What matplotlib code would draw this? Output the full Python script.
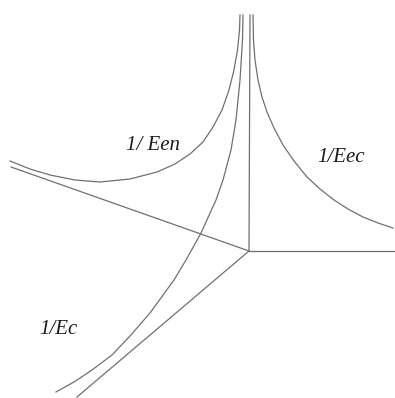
import matplotlib
matplotlib.use("Agg")
import matplotlib.pyplot as plt

# schematic (x right, y down)
origin = (249, 251)
axis_ends_x = [250, 395, 11, 77]
axis_ends_y = [15, 251, 167, 397]

een_x = [240, 239.5, 237.5, 234, 229, 222, 213, 203, 190, 175, 157, 130, 100, 75, 50, 30, 10]
een_y = [15, 30, 50, 70, 90, 110, 127, 142, 154, 164, 172, 179, 182, 180, 175, 169, 161]

ec_x = [243, 242.5, 240, 236, 231, 223, 216, 201, 186, 174, 150, 130, 112, 92, 74, 56]
ec_y = [15, 40, 80, 120, 150, 180, 200, 233, 260, 280, 313, 336, 355, 370, 382, 392]

eec_x = [253, 253.5, 255, 258, 262, 267, 274, 283, 294, 307, 320, 334, 348, 363, 378, 393]
eec_y = [15, 40, 60, 80, 97, 112, 128, 145, 161, 177, 189, 200, 209, 217, 223, 228]

labels = ["1/ Een", "1/Eec", "1/Ec"]
label_x = [153, 341, 58]
label_y = [145, 157, 330]

fig = plt.figure(figsize=(3.95, 3.98), dpi=100)
ax = fig.add_axes([0, 0, 1, 1])
ax.set_xlim(0, 395)
ax.set_ylim(398, 0)
ax.axis("off")

col = "#707070"
for ex, ey in zip(axis_ends_x, axis_ends_y):
    ax.plot([origin[0], ex], [origin[1], ey], color=col, lw=0.9)

for xs, ys in [(een_x, een_y), (ec_x, ec_y), (eec_x, eec_y)]:
    ax.plot(xs, ys, color=col, lw=0.9)

for t, x, y in zip(labels, label_x, label_y):
    ax.text(x, y, t, fontsize=15, family="Liberation Serif", style="italic",
            color="#1a1a1a", ha="center", va="center")

fig.savefig("out.png", dpi=100)
